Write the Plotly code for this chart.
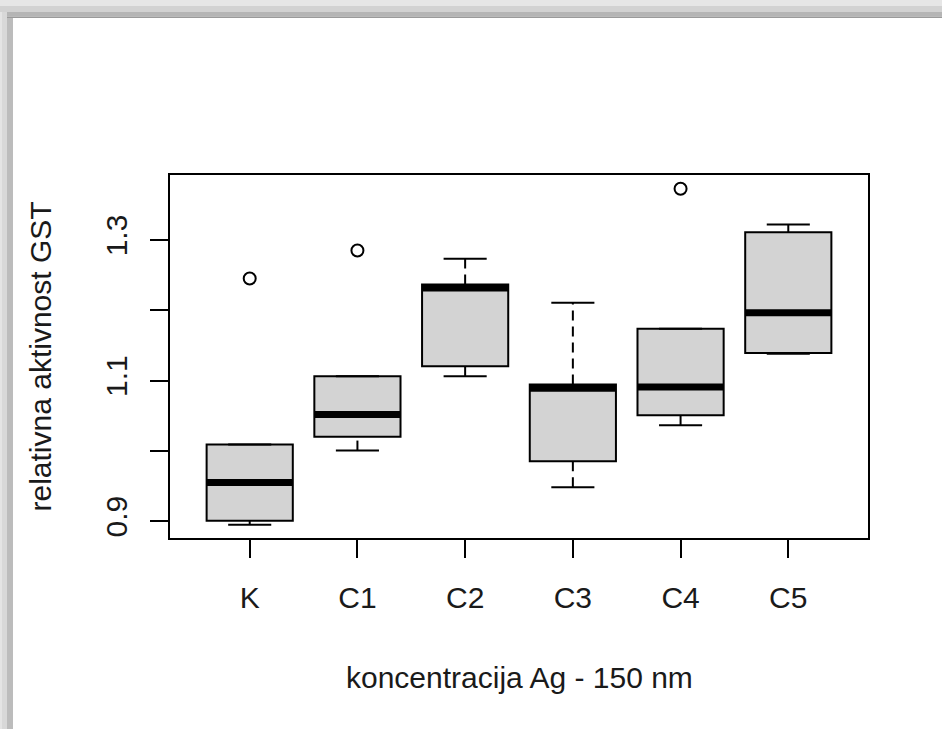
import plotly.graph_objects as go

# ---- data ----
categories = ["K", "C1", "C2", "C3", "C4", "C5"]
lower_whisker = [0.8950, 1.0004, 1.1061, 0.9481, 1.0364, 1.1380]
q1 = [0.9007, 1.0199, 1.1204, 0.9851, 1.0506, 1.1394]
median = [0.9548, 1.0516, 1.2317, 1.0890, 1.0910, 1.1964]
q3 = [1.0089, 1.1061, 1.2367, 1.0943, 1.1736, 1.3111]
upper_whisker = [1.0089, 1.1061, 1.2732, 1.2106, 1.1736, 1.3221]
outlier_cat = ["K", "C1", "C4"]
outlier_val = [1.2452, 1.2851, 1.3729]
y_tickvals = [0.9, 1.0, 1.1, 1.2, 1.3]
y_ticktext = ["0.9", "", "1.1", "", "1.3"]

W, H = 942, 729
L, R, T, B = 170, 74, 175, 191
PW, PH = W - L - R, H - T - B
FONT = "Liberation Sans, Arial, sans-serif"
BOXW = 0.8

pos = {c: i + 1 for i, c in enumerate(categories)}
xs = [pos[c] for c in categories]

fig = go.Figure()

# boxes
fig.add_trace(go.Bar(
    x=xs, y=[b - a for a, b in zip(q1, q3)], base=q1, width=BOXW,
    marker=dict(color="#d3d3d3", line=dict(color="black", width=2)),
    hoverinfo="skip", showlegend=False))

# whiskers (dashed)
wx, wy = [], []
for x, lw, a, b, uw in zip(xs, lower_whisker, q1, q3, upper_whisker):
    wx += [x, x, None, x, x, None]
    wy += [lw, a, None, b, uw, None]
fig.add_trace(go.Scatter(x=wx, y=wy, mode="lines",
                         line=dict(color="black", width=2, dash="10px,6px"),
                         hoverinfo="skip", showlegend=False))

# staples
sx, sy = [], []
for x, lw, uw in zip(xs, lower_whisker, upper_whisker):
    sx += [x - BOXW / 4, x + BOXW / 4, None, x - BOXW / 4, x + BOXW / 4, None]
    sy += [lw, lw, None, uw, uw, None]
fig.add_trace(go.Scatter(x=sx, y=sy, mode="lines",
                         line=dict(color="black", width=2),
                         hoverinfo="skip", showlegend=False))

# medians (thick)
mx, my = [], []
for x, m in zip(xs, median):
    mx += [x - BOXW / 2, x + BOXW / 2, None]
    my += [m, m, None]
fig.add_trace(go.Scatter(x=mx, y=my, mode="lines",
                         line=dict(color="black", width=7),
                         hoverinfo="skip", showlegend=False))

# outliers
fig.add_trace(go.Scatter(x=[pos[c] for c in outlier_cat], y=outlier_val, mode="markers",
                         marker=dict(symbol="circle-open", size=12, color="black",
                                     line=dict(width=2)),
                         hoverinfo="skip", showlegend=False))


def xp(px):
    return (px - L) / PW


def yp(py):
    return (H - B - py) / PH


shapes = []
# screenshot frame (top band)
for (y0, y1, col) in [(0, 6, "#e6e6e6"), (6, 12, "#d2d2d2"), (12, 16.5, "#b5b5b5"), (16.5, 18, "#9a9a9a")]:
    shapes.append(dict(type="rect", xref="paper", yref="paper", x0=xp(0), x1=xp(W),
                       y0=yp(y1), y1=yp(y0), fillcolor=col, line=dict(width=0), layer="below"))
# left band
for (x0, x1, col) in [(0, 2, "#e4e4e4"), (2, 7, "#d8d8d8"), (7, 13, "#bcbcbc")]:
    shapes.append(dict(type="rect", xref="paper", yref="paper", x0=xp(x0), x1=xp(x1),
                       y0=yp(H), y1=yp(18 if x1 > 7 else 12), fillcolor=col,
                       line=dict(width=0), layer="below"))

fig.update_layout(
    width=W, height=H,
    margin=dict(l=L, r=R, t=T, b=B, pad=0),
    paper_bgcolor="white", plot_bgcolor="white",
    shapes=shapes,
    xaxis=dict(range=[0.26, 6.74], tickvals=xs, ticktext=categories,
               showgrid=False, zeroline=False, showline=True, mirror=True,
               linecolor="black", linewidth=2, ticks="outside", ticklen=18,
               tickwidth=2, tickcolor="black", ticklabelstandoff=14,
               tickfont=dict(family=FONT, size=30, color="#1a1a1a")),
    yaxis=dict(range=[0.876, 1.3925], tickvals=y_tickvals, ticktext=y_ticktext,
               showgrid=False, zeroline=False, showline=True, mirror=True,
               linecolor="black", linewidth=2, ticks="outside", ticklen=18,
               tickwidth=2, tickcolor="black", tickangle=-90, ticklabelstandoff=11,
               tickfont=dict(family=FONT, size=30, color="#1a1a1a")),
    annotations=[
        dict(text="koncentracija Ag - 150 nm", xref="paper", yref="paper",
             x=0.5, y=yp(677), xanchor="center", yanchor="middle", showarrow=False,
             font=dict(family=FONT, size=30, color="#1a1a1a")),
        dict(text="relativna aktivnost GST", xref="paper", yref="paper",
             x=xp(40), y=0.5, xanchor="center", yanchor="middle", textangle=-90,
             showarrow=False, font=dict(family=FONT, size=30, color="#1a1a1a")),
    ],
)

fig.write_html(
    "out.html",
    config={"displayModeBar": False},
    post_script="document.body.style.margin='0';document.body.style.overflow='hidden';",
)
